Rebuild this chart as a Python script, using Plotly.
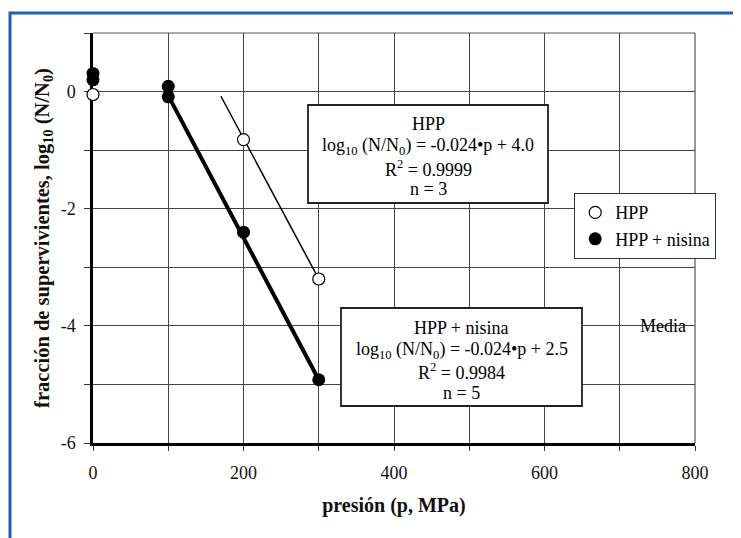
import plotly.graph_objects as go

# ---- data ----
hpp_p = [0, 200, 300]
hpp_log = [-0.05, -0.82, -3.2]

nis_p = [0, 0, 100, 100, 200, 300]
nis_log = [0.31, 0.2, 0.09, -0.09, -2.4, -4.92]

# fitted lines (as drawn)
hpp_fit_p = [170, 300]
hpp_fit_log = [-0.08, -3.2]
nis_fit_p = [100, 300]
nis_fit_log = [-0.07, -4.92]

x_tickvals = [0, 200, 400, 600, 800]
x_ticktext = ["0", "200", "400", "600", "800"]
y_tickvals = [-6, -4, -2, 0]
y_ticktext = ["-6", "-4", "-2", "0"]

box1_lines = ["HPP",
              "log<sub>10</sub> (N/N<sub>0</sub>) = -0.024•p + 4.0",
              "R<sup>2</sup> = 0.9999",
              "n = 3"]
box2_lines = ["HPP + nisina",
              "log<sub>10</sub> (N/N<sub>0</sub>) = -0.024•p + 2.5",
              "R<sup>2</sup> = 0.9984",
              "n = 5"]

FONT = "Liberation Serif, Times New Roman, serif"

# page offset (browser body margin) and geometry in reference pixels
OFF = 8
W, H = 741 - OFF, 538 - OFF
X0PX, X1PX, YTPX, YBPX = 93, 695, 33, 443   # plot area in reference pixels
XMIN, XMAX, YMIN, YMAX = 0, 800, -6, 1
L = X0PX - OFF
T = YTPX - OFF
R = W - (X1PX - OFF)
B = H - (YBPX - OFF)


def dx(px):  # reference pixel -> data x
    return XMIN + (px - X0PX) / (X1PX - X0PX) * (XMAX - XMIN)


def dy(py):  # reference pixel -> data y
    return YMAX - (py - YTPX) / (YBPX - YTPX) * (YMAX - YMIN)


def paperx(px):
    return (px - X0PX) / (X1PX - X0PX)


def papery(py):
    return (YBPX - py) / (YBPX - YTPX)


fig = go.Figure()
fig.add_trace(go.Scatter(x=hpp_fit_p, y=hpp_fit_log, mode="lines",
                         line=dict(color="black", width=1.5), showlegend=False,
                         hoverinfo="skip"))
fig.add_trace(go.Scatter(x=nis_fit_p, y=nis_fit_log, mode="lines",
                         line=dict(color="black", width=4), showlegend=False,
                         hoverinfo="skip"))
fig.add_trace(go.Scatter(x=hpp_p, y=hpp_log, mode="markers", name="HPP",
                         cliponaxis=False,
                         marker=dict(symbol="circle", size=12, color="white",
                                     line=dict(color="black", width=1.2))))
fig.add_trace(go.Scatter(x=nis_p, y=nis_log, mode="markers", name="HPP + nisina",
                         cliponaxis=False,
                         marker=dict(symbol="circle", size=13, color="black",
                                     line=dict(color="black", width=0))))

# blue frame (left and top edges visible)
fx, fy = paperx(10), papery(13)
fig.add_shape(type="path", xref="paper", yref="paper",
              path=f"M {fx},{papery(600)} L {fx},{fy} L {paperx(800)},{fy}",
              line=dict(color="#1f5fbf", width=3), layer="above")

# top and right borders of plot area
fig.add_shape(type="line", xref="paper", yref="paper", x0=0, x1=1, y0=1, y1=1,
              line=dict(color="#555", width=1.2), layer="below")
fig.add_shape(type="line", xref="paper", yref="paper", x0=1, x1=1, y0=0, y1=1,
              line=dict(color="#555", width=1.2), layer="below")


def text_box(x0, x1, y0, y1, lines, centers):
    fig.add_shape(type="rect", xref="x", yref="y",
                  x0=dx(x0), x1=dx(x1), y0=dy(y0), y1=dy(y1),
                  line=dict(color="#222", width=1.8), fillcolor="white",
                  layer="above")
    xc = dx((x0 + x1) / 2)
    for txt, cy in zip(lines, centers):
        fig.add_annotation(x=xc, y=dy(cy), xref="x", yref="y", text=txt,
                           showarrow=False, xanchor="center", yanchor="middle",
                           font=dict(family=FONT, size=18, color="black"))


text_box(308, 548, 105, 203, box1_lines, [124, 146, 168, 189])
text_box(341, 582, 308, 406, box2_lines, [328, 350, 371, 393])

fig.add_annotation(x=dx(663), y=-4, xref="x", yref="y", text="Media",
                   showarrow=False, font=dict(family=FONT, size=18, color="black"))

fig.update_layout(
    width=W, height=H,
    margin=dict(l=L, r=R, t=T, b=B),
    paper_bgcolor="white", plot_bgcolor="white",
    font=dict(family=FONT, size=18, color="black"),
    legend=dict(x=paperx(574), y=papery(193), xanchor="left", yanchor="top",
                bordercolor="#333", borderwidth=1.2, bgcolor="white",
                font=dict(family=FONT, size=18, color="black"),
                tracegroupgap=0, itemwidth=30),
    xaxis=dict(range=[XMIN, XMAX], tickmode="array",
               tickvals=x_tickvals, ticktext=x_ticktext, layer="below traces",
               showgrid=True, gridcolor="#444", gridwidth=1,
               showline=True, linecolor="black", linewidth=2.5,
               ticks="outside", ticklen=5, tickcolor="#333", tickwidth=1,
               minor=dict(tickmode="linear", tick0=0, dtick=100, showgrid=True,
                          gridcolor="#444", gridwidth=1,
                          ticks="outside", ticklen=5, tickcolor="#333", tickwidth=1),
               ticklabelstandoff=7, zeroline=False,
               tickfont=dict(family=FONT, size=18, color="#111"),
               title=dict(text="<b>presión (p, MPa)</b>", standoff=16,
                          font=dict(family=FONT, size=20, color="#111"))),
    yaxis=dict(range=[YMIN, YMAX], tickmode="array",
               tickvals=y_tickvals, ticktext=y_ticktext, layer="below traces",
               showgrid=True, gridcolor="#444", gridwidth=1,
               showline=True, linecolor="black", linewidth=2.5,
               ticks="outside", ticklen=6, tickcolor="#333", tickwidth=1,
               minor=dict(tickmode="linear", tick0=0, dtick=1, showgrid=True,
                          gridcolor="#444", gridwidth=1,
                          ticks="outside", ticklen=6, tickcolor="#333", tickwidth=1),
               ticklabelstandoff=5, zeroline=False,
               tickfont=dict(family=FONT, size=18, color="#111"),
               title=dict(text="<b>fracción de supervivientes, log<sub>10</sub> (N/N<sub>0</sub>)</b>",
                          standoff=6,
                          font=dict(family=FONT, size=20.5, color="#111"))),
)

fig.write_html("out.html")
